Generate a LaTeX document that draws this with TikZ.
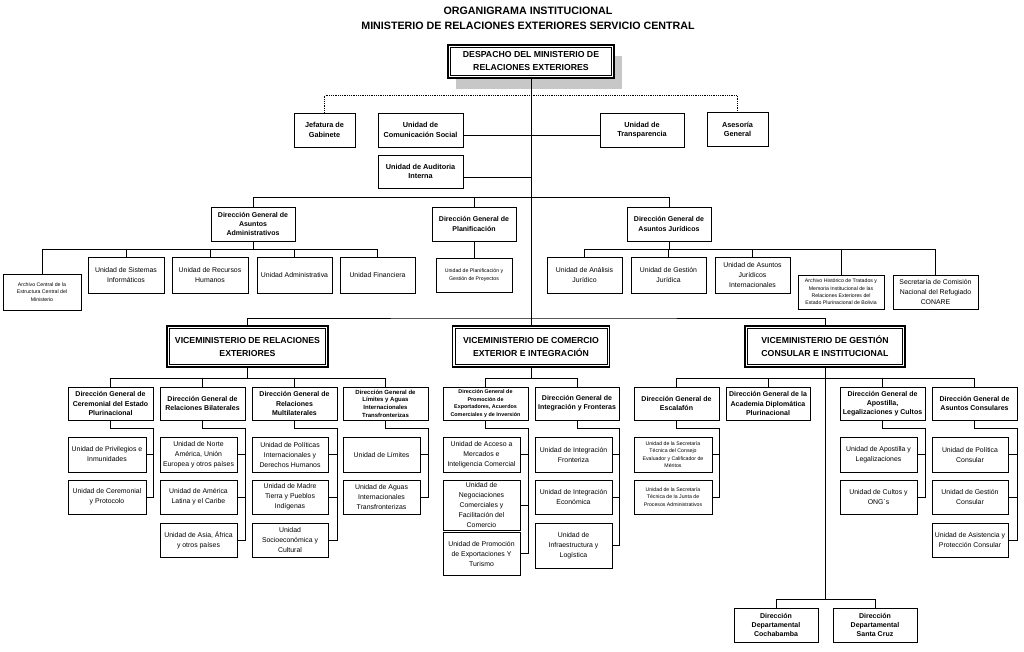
\documentclass[tikz,border=0pt]{standalone}
\usepackage{fontspec}
\setmainfont{Liberation Sans}
\usetikzlibrary{shadows}
\tikzset{
    orgbox/.style={draw,line width=0.8pt,fill=white,align=center,inner sep=0.5pt},
    unitnode/.style={orgbox,font=\fontsize{6.9}{10}\selectfont},
    smallnode/.style={orgbox,font=\fontsize{5.2}{7.4}\selectfont},
    topnode/.style={orgbox,font=\bfseries\fontsize{7.3}{9.6}\selectfont},
    dirnode/.style={orgbox,font=\bfseries\fontsize{7}{9.3}\selectfont},
    dirsmall/.style={orgbox,font=\bfseries\fontsize{6}{7.6}\selectfont},
    dirtiny/.style={orgbox,font=\bfseries\fontsize{5.4}{7.4}\selectfont},
    vicenode/.style={orgbox,line width=1.6pt,font=\bfseries\fontsize{8.7}{13}\selectfont},
    innerframe/.style={line width=0.7pt},
    titlenode/.style={font=\bfseries\fontsize{10.7}{12}\selectfont},
    line/.style={line width=0.8pt}
}
\begin{document}
\begin{tikzpicture}[x=1pt,y=-1pt]
        \useasboundingbox (0,0) rectangle (1024,651);
        % title
        \node[titlenode] (t1) at (528,11) {ORGANIGRAMA INSTITUCIONAL};
        \node[titlenode] (t2) at (528,26) {MINISTERIO DE RELACIONES EXTERIORES SERVICIO CENTRAL};

        % despacho
        \node[vicenode,minimum width=166,minimum height=33,drop shadow={shadow xshift=8pt,shadow yshift=-11pt,fill=black!22,opacity=1}] (desp) at (531,61.5) {DESPACHO DEL MINISTERIO DE\\RELACIONES EXTERIORES};

        % staff units
        \node[topnode,minimum width=61,minimum height=34] (jef) at (324.5,130) {Jefatura de\\Gabinete};
        \node[topnode,minimum width=85,minimum height=34] (com) at (420.5,130) {Unidad de\\Comunicación Social};
        \node[topnode,minimum width=84,minimum height=34] (tra) at (642,130) {Unidad de\\Transparencia};
        \node[topnode,minimum width=61,minimum height=34] (ase) at (737.5,129.5) {Asesoría\\General};
        \node[topnode,minimum width=85,minimum height=33] (aud) at (420.5,171.5) {Unidad de Auditoria\\Interna};

        % direcciones generales (despacho)
        \node[dirnode,minimum width=84,minimum height=34] (dadm) at (253,224) {Dirección General de\\Asuntos\\Administrativos};
        \node[dirnode,minimum width=84,minimum height=34] (dpla) at (474,224) {Dirección General de\\Planificación};
        \node[dirnode,minimum width=84,minimum height=34] (djur) at (669,224) {Dirección General de\\Asuntos Jurídicos};

        \node[smallnode,minimum width=78,minimum height=36] (arc) at (42,292) {Archivo Central de la\\Estructura Central del\\Ministerio};
        \node[unitnode,minimum width=76,minimum height=36] (sis) at (126,275) {Unidad de Sistemas\\Informáticos};
        \node[unitnode,minimum width=76,minimum height=36] (rrh) at (210,275) {Unidad de Recursos\\Humanos};
        \node[unitnode,minimum width=75,minimum height=36] (uad) at (294.5,275) {Unidad Administrativa};
        \node[unitnode,minimum width=75,minimum height=36] (fin) at (377.5,275) {Unidad Financiera};
        \node[smallnode,minimum width=76,minimum height=34] (upl) at (474,275) {Unidad de Planificación y\\Gestión de Proyectos};

        \node[unitnode,minimum width=75,minimum height=36] (anl) at (584.5,275) {Unidad de Análisis\\Jurídico};
        \node[unitnode,minimum width=75,minimum height=36] (gju) at (668.5,275) {Unidad de Gestión\\Jurídica};
        \node[unitnode,minimum width=75,minimum height=36] (aji) at (752.5,275) {Unidad de Asuntos\\Jurídicos\\Internacionales};
        \node[smallnode,minimum width=86,minimum height=34] (ahi) at (841,292) {Archivo Histórico de Tratados y\\Memoria Institucional de las\\Relaciones Exteriores del\\Estado Plurinacional de Bolivia};
        \node[unitnode,minimum width=85,minimum height=34] (con) at (935.5,292) {Secretaría de Comisión\\Nacional del Refugiado\\CONARE};

        % viceministerios
        \node[vicenode,minimum width=161,minimum height=41] (vre) at (247.5,346.5) {VICEMINISTERIO DE RELACIONES\\EXTERIORES};
        \node[vicenode,minimum width=157,minimum height=41] (vce) at (531,346.5) {VICEMINISTERIO DE COMERCIO\\EXTERIOR E INTEGRACIÓN};
        \node[vicenode,minimum width=160,minimum height=41] (vgc) at (825,346.5) {VICEMINISTERIO DE GESTIÓN\\CONSULAR E INSTITUCIONAL};
        \foreach \v in {desp,vre,vce,vgc}
            \draw[innerframe] ([shift={(3.2,3.2)}]\v.north west) rectangle ([shift={(-3.2,-3.2)}]\v.south east); % double frame

        % relaciones exteriores
        \node[dirnode,minimum width=85,minimum height=33] (dcer) at (110.5,403.5) {Dirección General de\\Ceremonial del Estado\\Plurinacional};
        \node[dirnode,minimum width=85,minimum height=33] (dbil) at (202.5,403.5) {Dirección General de\\Relaciones Bilaterales};
        \node[dirnode,minimum width=85,minimum height=33] (dmul) at (294.5,403.5) {Dirección General de\\Relaciones\\Multilaterales};
        \node[dirsmall,minimum width=85,minimum height=33] (dlim) at (385.5,403.5) {Dirección General de\\Límites y Aguas\\Internacionales\\Transfronterizas};

        \node[unitnode,minimum width=78,minimum height=35] (cer1) at (107,454.5) {Unidad de Privilegios e\\Inmunidades};
        \node[unitnode,minimum width=78,minimum height=34] (cer2) at (107,497) {Unidad de Ceremonial\\y Protocolo};
        \node[unitnode,minimum width=77,minimum height=35] (bil1) at (198.5,454.5) {Unidad de Norte\\América, Unión\\Europea y otros países};
        \node[unitnode,minimum width=77,minimum height=34] (bil2) at (198.5,497) {Unidad de América\\Latina y el Caribe};
        \node[unitnode,minimum width=77,minimum height=34] (bil3) at (198.5,540) {Unidad de Asia, África\\y otros países};
        \node[unitnode,minimum width=76,minimum height=35] (mul1) at (290,454.5) {Unidad de Políticas\\Internacionales y\\Derechos Humanos};
        \node[unitnode,minimum width=76,minimum height=34] (mul2) at (290,497) {Unidad de Madre\\Tierra y Pueblos\\Indígenas};
        \node[unitnode,minimum width=76,minimum height=34] (mul3) at (290,540) {Unidad\\Socioeconómica y\\Cultural};
        \node[unitnode,minimum width=77,minimum height=35] (lim1) at (381.5,454.5) {Unidad de Límites};
        \node[unitnode,minimum width=77,minimum height=34] (lim2) at (381.5,497) {Unidad de Aguas\\Internacionales\\Transfronterizas};

        % comercio exterior
        \node[dirtiny,minimum width=85,minimum height=33] (dpro) at (485.5,403.5) {Dirección General de\\Promoción de\\Exportadores, Acuerdos\\Comerciales y de Inversión};
        \node[dirnode,minimum width=84,minimum height=33] (dint) at (577,403.5) {Dirección General de\\Integración y Fronteras};

        \node[unitnode,minimum width=77,minimum height=35] (pro1) at (481.5,454.5) {Unidad de Acceso a\\Mercados e\\Inteligencia Comercial};
        \node[unitnode,minimum width=77,minimum height=50] (pro2) at (481.5,505) {Unidad de\\Negociaciones\\Comerciales y\\Facilitación del\\Comercio};
        \node[unitnode,minimum width=77,minimum height=43] (pro3) at (481.5,553.5) {Unidad  de Promoción\\de Exportaciones Y\\Turismo};
        \node[unitnode,minimum width=77,minimum height=35] (int1) at (573.5,454.5) {Unidad de Integración\\Fronteriza};
        \node[unitnode,minimum width=77,minimum height=34] (int2) at (573.5,497) {Unidad de Integración\\Económica};
        \node[unitnode,minimum width=77,minimum height=45] (int3) at (573.5,545.5) {Unidad de\\Infraestructura y\\Logística};

        % gestion consular
        \node[dirnode,minimum width=85,minimum height=33] (desc) at (676.5,403.5) {Dirección General de\\Escalafón};
        \node[dirnode,minimum width=84,minimum height=33] (daca) at (768,403.5) {Dirección General de la\\Academia Diplomática\\Plurinacional};
        \node[dirnode,minimum width=85,minimum height=33] (dapo) at (882.5,403.5) {Dirección General de\\Apostilla,\\Legalizaciones y Cultos};
        \node[dirnode,minimum width=85,minimum height=33] (dcon) at (974.5,403.5) {Dirección General de\\Asuntos Consulares};

        \node[smallnode,minimum width=78,minimum height=35] (esc1) at (673,454.5) {Unidad de la Secretaría\\Técnica del Consejo\\Evaluador y Calificador de\\Méritos};
        \node[smallnode,minimum width=78,minimum height=34] (esc2) at (673,497) {Unidad de la Secretaría\\Técnica de la Junta de\\Procesos Administrativos};
        \node[unitnode,minimum width=77,minimum height=35] (apo1) at (878.5,454.5) {Unidad de Apostilla y\\Legalizaciones};
        \node[unitnode,minimum width=77,minimum height=34] (apo2) at (878.5,497) {Unidad de Cultos y\\ONG´s};
        \node[unitnode,minimum width=76,minimum height=35] (cns1) at (970,454.5) {Unidad de Política\\Consular};
        \node[unitnode,minimum width=76,minimum height=34] (cns2) at (970,497) {Unidad de Gestión\\Consular};
        \node[unitnode,minimum width=76,minimum height=34] (cns3) at (970,540) {Unidad de Asistencia y\\Protección Consular};

        \node[dirnode,minimum width=84,minimum height=34] (coc) at (776,625) {Dirección\\Departamental\\Cochabamba};
        \node[dirnode,minimum width=84,minimum height=34] (scz) at (875,625) {Dirección\\Departamental\\Santa Cruz};

        % lines
        \draw[line] (desp.south) -- (vce.north);
        \draw[line,densely dotted] (jef.north) -- ++(0,-17) -| (ase.north);
        \draw[line] ([yshift=-5pt]com.east) -- ([yshift=-5pt]tra.west);
        \draw[line] ([yshift=-6pt]aud.east) -- ([yshift=-6pt]aud.east -| desp.south);

        \draw[line] (dadm.north) -- ++(0,-9) -| (djur.north);
        \draw[line] (dpla.north) -- ++(0,-9);
        \draw[line] (dpla.south) -- (upl.north);

        \path (dadm.south) ++(0,8) coordinate (admbus);
        \draw[line] (dadm.south) -- (admbus);
        \draw[line] (arc.north) |- (admbus) -| (fin.north);
        \foreach \u in {sis,rrh,uad} \draw[line] (\u.north) -- (\u.north |- admbus);

        \path (djur.south) ++(0,8) coordinate (jurbus);
        \draw[line] (djur.south) -- (jurbus);
        \draw[line] (anl.north) |- (jurbus) -| (con.north);
        \foreach \u in {gju,aji,ahi} \draw[line] (\u.north) -- (\u.north |- jurbus);

        \coordinate (vbus) at (531,318);
        \draw[line] (vre.north) |- (vbus) -| (vgc.north);

        % vice buses
        \path (vre.south) ++(0,11) coordinate (vrebus);
        \draw[line] (vre.south) -- (vrebus);
        \draw[line] (dcer.north) |- (vrebus) -| (dlim.north);
        \foreach \u in {dbil,dmul} \draw[line] (\u.north) -- (\u.north |- vrebus);

        \path (vce.south) ++(0,11) coordinate (vcebus);
        \draw[line] (vce.south) -- (vcebus);
        \draw[line] (dpro.north) |- (vcebus) -| (dint.north);

        \path (vgc.south) ++(0,11) coordinate (vgcbus);
        \draw[line] (desc.north) |- (vgcbus) -| (dcon.north);
        \foreach \u in {daca,dapo} \draw[line] (\u.north) -- (\u.north |- vgcbus);

        \coordinate (depbus) at (825,599);
        \draw[line] (vgc.south) -- (depbus);
        \draw[line] (coc.north) |- (depbus) -| (scz.north);

        % unit brackets
        \draw[line] (dcer.south) -- ++(0,8) -| (dcer.east |- cer2.east) -- (cer2.east);
        \draw[line] (cer1.east) -- (cer1.east -| dcer.east);

        \draw[line] (dbil.south) -- ++(0,8) -| (dbil.east |- bil3.east) -- (bil3.east);
        \foreach \u in {bil1,bil2} \draw[line] (\u.east) -- (\u.east -| dbil.east);

        \draw[line] (dmul.south) -- ++(0,8) -| (dmul.east |- mul3.east) -- (mul3.east);
        \foreach \u in {mul1,mul2} \draw[line] (\u.east) -- (\u.east -| dmul.east);

        \draw[line] (dlim.south) -- ++(0,8) -| (dlim.east |- lim2.east) -- (lim2.east);
        \draw[line] (lim1.east) -- (lim1.east -| dlim.east);

        \draw[line] (dpro.south) -- ++(0,8) -| (dpro.east |- pro3.east) -- (pro3.east);
        \foreach \u in {pro1,pro2} \draw[line] (\u.east) -- (\u.east -| dpro.east);

        \draw[line] (dint.south) -- ++(0,8) -| (dint.east |- int3.east) -- (int3.east);
        \foreach \u in {int1,int2} \draw[line] (\u.east) -- (\u.east -| dint.east);

        \draw[line] (desc.south) -- ++(0,8) -| (desc.east |- esc2.east) -- (esc2.east);
        \draw[line] (esc1.east) -- (esc1.east -| desc.east);

        \draw[line] (dapo.south) -- ++(0,8) -| (dapo.east |- apo2.east) -- (apo2.east);
        \draw[line] (apo1.east) -- (apo1.east -| dapo.east);

        \draw[line] (dcon.south) -- ++(0,8) -| (dcon.east |- cns3.east) -- (cns3.east);
        \foreach \u in {cns1,cns2} \draw[line] (\u.east) -- (\u.east -| dcon.east);
\end{tikzpicture}
\end{document}
